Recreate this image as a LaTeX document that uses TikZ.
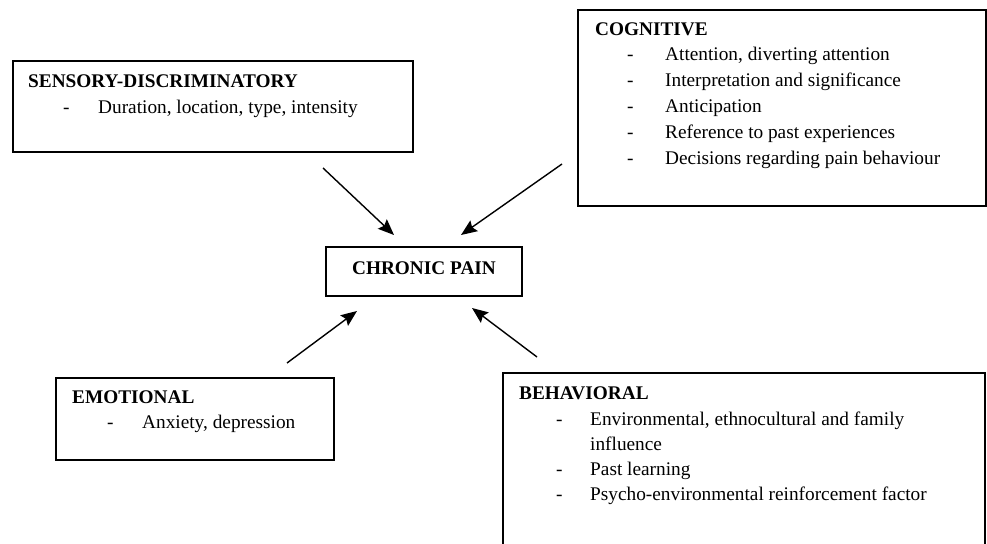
\documentclass[tikz,border=0pt]{standalone}
\usepackage{fontspec}
\setmainfont{Liberation Serif}
\usetikzlibrary{arrows.meta}
\tikzset{
  box/.style={draw, line width=1.3pt, inner sep=0pt, outer sep=0pt},
  head/.style={anchor=base west, inner sep=0pt, font=\fontsize{19.3}{23}\selectfont\bfseries},
  item/.style={anchor=base west, inner sep=0pt, font=\fontsize{19.3}{23}\selectfont},
  arr/.style={line width=1.4pt, -{Stealth[length=16pt,width=13pt,inset=2.5pt]}}
}
\begin{document}
\begin{tikzpicture}[x=1pt,y=-1pt]
\useasboundingbox (0,0) rectangle (987,543);
\clip (0,0) rectangle (987,543);
\fill[white] (0,0) rectangle (987,543);
% boxes
\node[box, minimum width=400pt, minimum height=91pt, anchor=north west] (sens) at (13,61) {};
\node[box, minimum width=408pt, minimum height=196pt, anchor=north west] (cog) at (578,10) {};
\node[box, minimum width=196pt, minimum height=49pt, anchor=north west] (pain) at (326,247) {};
\node[box, minimum width=278pt, minimum height=82pt, anchor=north west] (emo) at (56,378) {};
\node[box, minimum width=482pt, minimum height=200pt, anchor=north west] (beh) at (503,373) {};
% sensory text
\node[head] (sh) at (28,88) {SENSORY-DISCRIMINATORY};
\node[item] (sd1) at (63,113) {-};
\node[item] (si1) at (98,113) {Duration, location, type, intensity};
% cognitive text
\node[head] (ch) at (595,36) {COGNITIVE};
\node[item] (cd1) at (627,60) {-};
\node[item] (ci1) at (665,60) {Attention, diverting attention};
\node[item] (cd2) at (627,86) {-};
\node[item] (ci2) at (665,86) {Interpretation and significance};
\node[item] (cd3) at (627,112) {-};
\node[item] (ci3) at (665,112) {Anticipation};
\node[item] (cd4) at (627,138) {-};
\node[item] (ci4) at (665,138) {Reference to past experiences};
\node[item] (cd5) at (627,164) {-};
\node[item] (ci5) at (665,164) {Decisions regarding pain behaviour};
% chronic pain
\node[anchor=base, inner sep=0pt, font=\fontsize{19.3}{23}\selectfont\bfseries] (pt) at (424,274) {CHRONIC PAIN};
% emotional
\node[head] (eh) at (72,403) {EMOTIONAL};
\node[item] (ed1) at (107,428) {-};
\node[item] (ei1) at (142,428) {Anxiety, depression};
% behavioral
\node[head] (bh) at (519,399) {BEHAVIORAL};
\node[item] (bd1) at (556,425) {-};
\node[item] (bi1) at (590,425) {Environmental, ethnocultural and family};
\node[item] (bi1b) at (590,450) {influence};
\node[item] (bd2) at (556,475) {-};
\node[item] (bi2) at (590,475) {Past learning};
\node[item] (bd3) at (556,500) {-};
\node[item] (bi3) at (590,500) {Psycho-environmental reinforcement factor};
% arrow ends
\coordinate (a1s) at (323,168);
\coordinate (a1e) at (394,235);
\coordinate (a2s) at (562,164);
\coordinate (a2e) at (461,235);
\coordinate (a3s) at (287,363);
\coordinate (a3e) at (357,311);
\coordinate (a4s) at (537,357);
\coordinate (a4e) at (472,308);
\draw[arr] (a1s) -- (a1e);
\draw[arr] (a2s) -- (a2e);
\draw[arr] (a3s) -- (a3e);
\draw[arr] (a4s) -- (a4e);
\end{tikzpicture}
\end{document}
